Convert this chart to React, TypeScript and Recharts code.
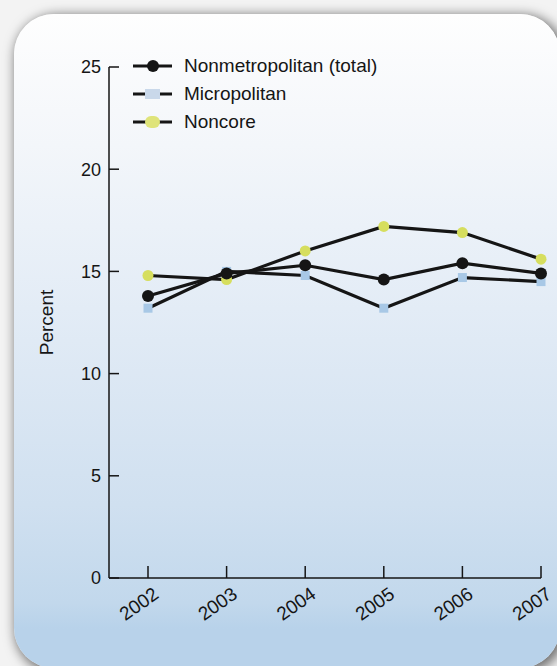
import React from 'react';
import { LineChart, Line, XAxis, YAxis, Label } from 'recharts';

const years = ['2002', '2003', '2004', '2005', '2006', '2007'];
const nonmetroTotal = [13.8, 14.9, 15.3, 14.6, 15.4, 14.9];
const micropolitan = [13.2, 15.0, 14.8, 13.2, 14.7, 14.5];
const noncore = [14.8, 14.6, 16.0, 17.2, 16.9, 15.6];
const yTicks = [0, 5, 10, 15, 20, 25];

const data = years.map((year, i) => ({
    year,
    nonmetro: nonmetroTotal[i],
    micro: micropolitan[i],
    noncore: noncore[i],
}));

const FONT = '"Liberation Sans", Arial, Helvetica, sans-serif';
const INK = '#151515';
const MICRO_FILL = '#a8c8e6';
const NONCORE_FILL = '#d6de5e';

const LEGEND = [
    { label: 'Nonmetropolitan (total)', marker: 'black' },
    { label: 'Micropolitan', marker: 'square' },
    { label: 'Noncore', marker: 'yellow' },
];

// legend sits inside the plot, top left, over the empty part of the chart
const LegendBox = () => (
    <div
        style={{
            position: 'absolute',
            left: 128,
            top: 52,
            fontFamily: FONT,
            fontSize: 19,
            color: INK,
        }}
    >
        {LEGEND.map((item) => (
            <div
                key={item.label}
                style={{ display: 'flex', alignItems: 'center', height: 28 }}
            >
                <svg width={44} height={20}>
                    <line x1={5} y1={10} x2={44} y2={10} stroke={INK} strokeWidth={3} />
                    {item.marker === 'black' && <circle cx={25} cy={10} r={6} fill={INK} />}
                    {item.marker === 'square' && (
                        <rect x={17} y={5} width={15} height={10} fill="#c9d8ea" />
                    )}
                    {item.marker === 'yellow' && (
                        <rect x={17} y={4} width={15} height={12} rx={6} fill="#dfe47a" />
                    )}
                </svg>
                <span style={{ marginLeft: 12, whiteSpace: 'nowrap' }}>{item.label}</span>
            </div>
        ))}
    </div>
);

const YearTick = (props: any) => {
    const { x, y, payload } = props;
    return (
        <g transform={`translate(${x + 12},${y + 17})`}>
            <text
                textAnchor="end"
                transform="rotate(-35)"
                fontSize={19}
                fontFamily={FONT}
                fill={INK}
            >
                {payload.value}
            </text>
        </g>
    );
};

const SquareDot = (props: any) => {
    const { cx, cy, index } = props;
    if (cx == null || cy == null) return <g key={index} />;
    return (
        <rect
            key={index}
            x={cx - 4.5}
            y={cy - 4.5}
            width={9}
            height={9}
            fill={MICRO_FILL}
        />
    );
};

export default function App() {
    return (
        <div
            style={{
                position: 'absolute',
                left: 0,
                top: 0,
                width: 557,
                height: 666,
                overflow: 'hidden',
                background: '#f3f3f3',
            }}
        >
            <div
                style={{
                    position: 'absolute',
                    left: 14,
                    top: 14,
                    width: 546,
                    height: 654,
                    borderRadius: 40,
                    background:
                        'linear-gradient(to bottom, #fefefe 0%, #f3f6fa 20%, #e3ecf6 45%, #d0e0f0 75%, #c2d8ec 90%, #b8d2ea 94%, #b8d2ea 100%)',
                    boxShadow: '3px 3px 12px 2px rgba(0,0,0,0.55)',
                }}
            />
            <div style={{ position: 'absolute', left: 0, top: 0 }}>
                <LineChart
                    width={557}
                    height={666}
                    data={data}
                    margin={{ top: 67, right: 16, left: 0, bottom: 38 }}
                    style={{ fontFamily: FONT }}
                >
                    <XAxis
                        dataKey="year"
                        height={50}
                        padding={{ left: 39, right: 0 }}
                        axisLine={{ stroke: INK, strokeWidth: 1.5 }}
                        tickLine={{ stroke: INK, strokeWidth: 1.5 }}
                        tickSize={-12}
                        tickMargin={14}
                        tick={<YearTick />}
                        interval={0}
                    />
                    <YAxis
                        width={109}
                        domain={[0, 25]}
                        ticks={yTicks}
                        axisLine={{ stroke: INK, strokeWidth: 1.5 }}
                        tickLine={{ stroke: INK, strokeWidth: 1.5 }}
                        tickSize={-10}
                        tickMargin={18}
                        tick={{ fontSize: 18, fill: INK, fontFamily: FONT }}
                    >
                        <Label
                            content={(p: any) => {
                                const vb = p.viewBox || { x: 0, y: 67, height: 511 };
                                const cy = vb.y + vb.height / 2;
                                return (
                                    <text
                                        x={53}
                                        y={cy}
                                        transform={`rotate(-90, 53, ${cy})`}
                                        textAnchor="middle"
                                        fontSize={19}
                                        fontFamily={FONT}
                                        fill={INK}
                                    >
                                        Percent
                                    </text>
                                );
                            }}
                        />
                    </YAxis>
                    <Line
                        dataKey="micro"
                        name="Micropolitan"
                        stroke={INK}
                        strokeWidth={3.2}
                        dot={SquareDot}
                        activeDot={false}
                        isAnimationActive={false}
                    />
                    <Line
                        dataKey="noncore"
                        name="Noncore"
                        stroke={INK}
                        strokeWidth={3.2}
                        dot={{ r: 5.5, fill: NONCORE_FILL, stroke: 'none' }}
                        activeDot={false}
                        isAnimationActive={false}
                    />
                    <Line
                        dataKey="nonmetro"
                        name="Nonmetropolitan (total)"
                        stroke={INK}
                        strokeWidth={3.2}
                        dot={{ r: 6, fill: INK, stroke: 'none' }}
                        activeDot={false}
                        isAnimationActive={false}
                    />
                </LineChart>
            </div>
            <LegendBox />
        </div>
    );
}
